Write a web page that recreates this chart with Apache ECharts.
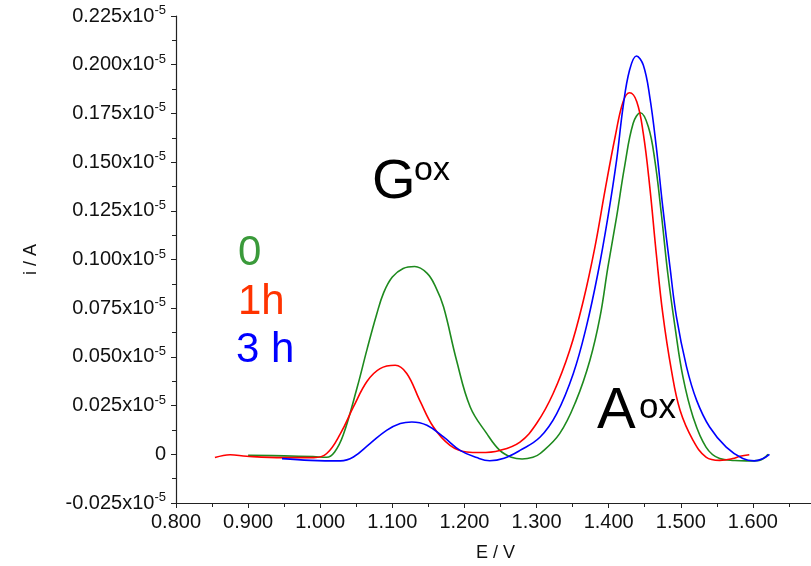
<!DOCTYPE html>
<html>
<head>
<meta charset="utf-8">
<script src="https://cdn.jsdelivr.net/npm/echarts@6.0.0/dist/echarts.min.js"></script>
<style>
html,body{margin:0;padding:0;background:#fff;}
#chart{width:811px;height:566px;}
</style>
</head>
<body>
<div id="chart"></div>
<script>
// Values of i are in units of 1e-5 A
var series0 = [[0.900,-0.0005],[0.950,-0.0008],[0.990,-0.0012],[1.009,-0.0015],[1.020,0.0012],[1.032,0.0100],[1.051,0.0340],[1.065,0.0540],[1.078,0.0715],[1.088,0.0830],[1.100,0.0910],[1.115,0.0954],[1.131,0.0964],[1.148,0.0930],[1.160,0.0860],[1.171,0.0757],[1.189,0.0483],[1.208,0.0243],[1.231,0.0106],[1.249,0.0020],[1.265,-0.0015],[1.280,-0.0024],[1.295,-0.0015],[1.305,0.0004],[1.332,0.0106],[1.355,0.0277],[1.374,0.0483],[1.388,0.0705],[1.399,0.0962],[1.411,0.1219],[1.422,0.1476],[1.434,0.1699],[1.444,0.1753],[1.455,0.1681],[1.464,0.1510],[1.473,0.1236],[1.482,0.0928],[1.492,0.0654],[1.503,0.0397],[1.517,0.0192],[1.535,0.0037],[1.554,-0.0022],[1.575,-0.0032],[1.591,-0.0034],[1.609,-0.0031],[1.621,0.0000]];
var series1h = [[0.854,-0.0017],[0.875,-0.0002],[0.898,-0.0010],[0.949,-0.0017],[0.991,-0.0017],[1.009,0.0004],[1.028,0.0106],[1.046,0.0243],[1.065,0.0375],[1.083,0.0440],[1.104,0.0457],[1.120,0.0415],[1.138,0.0277],[1.157,0.0140],[1.180,0.0046],[1.203,0.0012],[1.222,0.0009],[1.249,0.0020],[1.277,0.0063],[1.300,0.0158],[1.323,0.0312],[1.346,0.0534],[1.365,0.0791],[1.381,0.1065],[1.395,0.1356],[1.409,0.1630],[1.420,0.1810],[1.429,0.1856],[1.439,0.1810],[1.448,0.1647],[1.457,0.1373],[1.466,0.1031],[1.475,0.0723],[1.487,0.0432],[1.499,0.0226],[1.517,0.0072],[1.535,-0.0014],[1.554,-0.0031],[1.572,-0.0022],[1.582,-0.0010],[1.595,-0.0002]];
var series3h = [[0.947,-0.0022],[0.986,-0.0031],[1.028,-0.0034],[1.046,-0.0014],[1.069,0.0055],[1.092,0.0123],[1.111,0.0158],[1.127,0.0166],[1.148,0.0149],[1.171,0.0089],[1.194,0.0020],[1.217,-0.0017],[1.235,-0.0033],[1.255,-0.0020],[1.277,0.0020],[1.305,0.0089],[1.328,0.0209],[1.351,0.0415],[1.369,0.0654],[1.385,0.0928],[1.399,0.1219],[1.411,0.1510],[1.420,0.1784],[1.429,0.1973],[1.4385,0.2045],[1.448,0.1998],[1.457,0.1835],[1.466,0.1579],[1.475,0.1270],[1.485,0.0962],[1.494,0.0705],[1.508,0.0449],[1.522,0.0277],[1.540,0.0140],[1.563,0.0037],[1.586,-0.0022],[1.602,-0.0034],[1.614,-0.0022],[1.623,0.0000]];
var seriesNames = ['0', '1h', '3 h'];
var seriesColors = ['#1e8a1e', '#ff0000', '#0000ff'];
var labelColors = ['#3a9a3a', '#ff3300', '#0000ff'];
var xTitle = 'E / V';
var yTitle = 'i / A';

var chart = echarts.init(document.getElementById('chart'));
var font = 'Arial, "Liberation Sans", sans-serif';
function mk(name, data, color) {
  return { name: name, type: 'line', data: data, smooth: 0.4, showSymbol: false, symbol: 'none',
    lineStyle: { color: color, width: 1.6 }, itemStyle: { color: color }, z: 3 };
}
chart.setOption({
  animation: false,
  backgroundColor: '#fff',
  textStyle: { fontFamily: font },
  grid: { left: 176, right: -14, top: 16, bottom: 63, containLabel: false, outerBoundsMode: 'none' },
  xAxis: {
    type: 'value', min: 0.8, max: 1.7, interval: 0.1,
    axisLine: { show: true, onZero: false, lineStyle: { color: '#222', width: 1.2 } },
    axisTick: { show: true, inside: false, length: 5, lineStyle: { color: '#222' } },
    minorTick: { show: true, splitNumber: 2, length: 4, lineStyle: { color: '#222' } },
    splitLine: { show: false },
    axisLabel: { showMaxLabel: false, margin: 9, fontSize: 20, color: '#111', fontFamily: font,
      formatter: function (v) { return v.toFixed(3); } }
  },
  yAxis: {
    type: 'value', min: -0.025, max: 0.225, interval: 0.025,
    name: yTitle, nameLocation: 'middle', nameGap: 136, nameRotate: 90,
    nameTextStyle: { fontSize: 18, color: '#111', fontFamily: font },
    axisLine: { show: true, onZero: false, lineStyle: { color: '#222', width: 1.2 } },
    axisTick: { show: true, inside: false, length: 5, lineStyle: { color: '#222' } },
    minorTick: { show: true, splitNumber: 2, length: 4, lineStyle: { color: '#222' } },
    splitLine: { show: false },
    axisLabel: { margin: 10, fontSize: 20, color: '#111', fontFamily: font,
      formatter: function (v) {
        if (Math.abs(v) < 1e-9) return '{b|0}';
        return '{b|' + v.toFixed(3) + 'x10}{s|-5}';
      },
      rich: {
        b: { fontSize: 20, color: '#111', fontFamily: font },
        s: { fontSize: 13, color: '#111', fontFamily: font, padding: [0, 0, 11, 0] }
      }
    }
  },
  graphic: [
    { type: 'text', left: 476, top: 544, style: { text: xTitle, fontSize: 18, fill: '#111', fontFamily: font } },
    { type: 'text', x: 372, y: 183, style: { text: 'G', fontSize: 56, fill: '#000', fontFamily: font, verticalAlign: 'middle', align: 'left' } },
    { type: 'text', x: 414, y: 171, style: { text: 'ox', fontSize: 34, fill: '#000', fontFamily: font, verticalAlign: 'middle', align: 'left' } },
    { type: 'text', x: 597, y: 412, style: { text: 'A', fontSize: 58, fill: '#000', fontFamily: font, verticalAlign: 'middle', align: 'left' } },
    { type: 'text', x: 639, y: 408, style: { text: 'ox', fontSize: 35, fill: '#000', fontFamily: font, verticalAlign: 'middle', align: 'left' } },
    { type: 'text', x: 238, y: 253, style: { text: seriesNames[0], fontSize: 42, fill: labelColors[0], fontFamily: font, verticalAlign: 'middle' } },
    { type: 'text', x: 238, y: 302, style: { text: seriesNames[1], fontSize: 42, fill: labelColors[1], fontFamily: font, verticalAlign: 'middle' } },
    { type: 'text', x: 236, y: 350, style: { text: seriesNames[2], fontSize: 42, fill: labelColors[2], fontFamily: font, verticalAlign: 'middle' } }
  ],
  series: [
    mk(seriesNames[0], series0, seriesColors[0]),
    mk(seriesNames[1], series1h, seriesColors[1]),
    mk(seriesNames[2], series3h, seriesColors[2])
  ]
});
</script>
</body>
</html>
